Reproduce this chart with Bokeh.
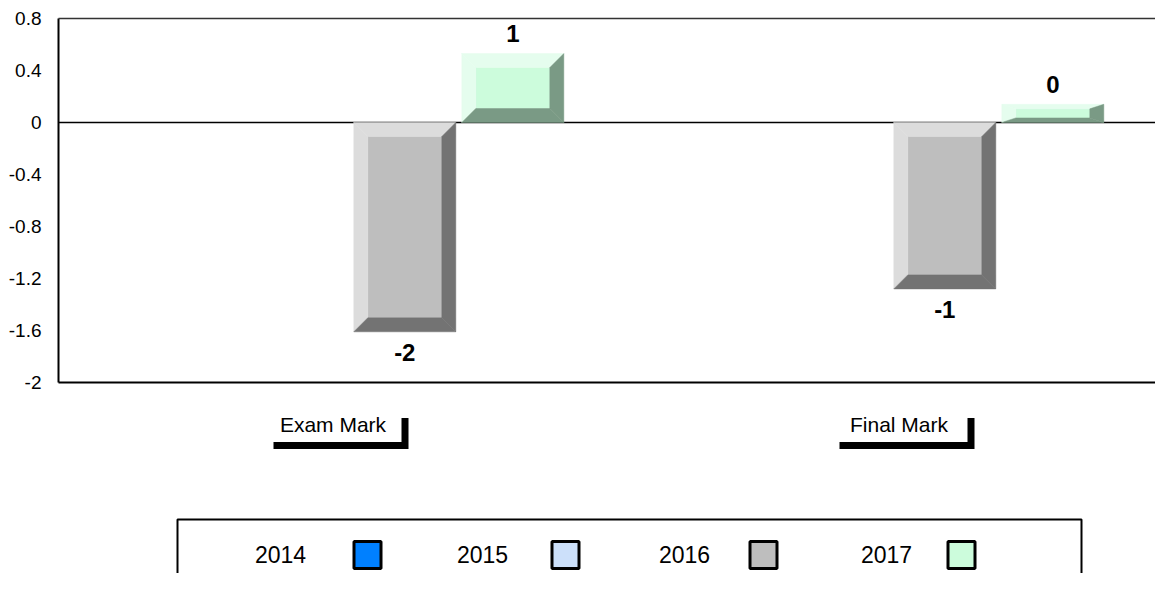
from bokeh.plotting import figure
from bokeh.models import Range1d, FixedTicker, CustomJSTickFormatter
from bokeh.core.properties import value
from bokeh.embed import file_html
from bokeh.resources import INLINE

# ---------------- data ----------------
CATEGORIES = ["Exam Mark", "Final Mark"]
SERIES = ["2014", "2015", "2016", "2017"]
V2014 = [0.0, 0.0]
V2015 = [0.0, 0.0]
V2016 = [-1.61, -1.28]
V2017 = [0.53, 0.14]
Y_TICKS = [-2, -1.6, -1.2, -0.8, -0.4, 0, 0.4, 0.8]

VALUES = [V2014, V2015, V2016, V2017]
FACE = ["#0080FF", "#CCE0FA", "#BEBEBE", "#CCFCDC"]
LIGHT = ["#66B3FF", "#E6F0FD", "#DCDCDC", "#E5FDEE"]
DARK = ["#004D99", "#7A8696", "#737373", "#7A9A85"]

# ---------------- layout ----------------
W, H = 1155, 573
BORDER_L = 54
PX = 130.0          # pixels per y unit
ZERO_Y = 122        # screen y of value 0

def sy(screen_y):
    return (ZERO_Y - screen_y) / PX

y_end = sy(0)
y_start = sy(H)

GROUP_X0, GROUP_STEP, SLOT, BAR_W, BEVEL = 350.3, 540.0, 108.0, 102.0, 14.0
CAT_X0, CAT_STEP = 340.5, 566.0
FONT = "Liberation Sans"

p = figure(width=W, height=H, output_backend="svg", toolbar_location=None,
           x_range=Range1d(BORDER_L, W), y_range=Range1d(y_start, y_end),
           x_axis_location=None, y_axis_location="left",
           min_border_left=BORDER_L, min_border_right=0, min_border_top=0,
           min_border_bottom=0)
p.outline_line_color = None
p.grid.visible = False
p.background_fill_color = "white"
p.border_fill_color = "white"

ax = p.yaxis[0]
ax.ticker = FixedTicker(ticks=Y_TICKS)
ax.formatter = CustomJSTickFormatter(code="return String(Math.round(tick*10)/10);")
ax.axis_line_color = None
ax.major_tick_line_color = None
ax.minor_tick_line_color = None
ax.major_label_standoff = 7
ax.major_label_text_font = FONT
ax.major_label_text_font_size = "19px"
ax.major_label_text_color = "black"

# frame lines
xl, xr = 58, W
p.segment(x0=[xl], y0=[Y_TICKS[0]], x1=[xl], y1=[Y_TICKS[-1]], line_color="black", line_width=2)
p.segment(x0=[xl], y0=[Y_TICKS[-1]], x1=[xr], y1=[Y_TICKS[-1]], line_color="#333333", line_width=1.5)
p.segment(x0=[xl], y0=[0], x1=[xr], y1=[0], line_color="black", line_width=1.5)
p.segment(x0=[xl], y0=[Y_TICKS[0]], x1=[xr], y1=[Y_TICKS[0]], line_color="black", line_width=2)

# beveled bars
lab_x, lab_y, lab_t = [], [], []
for si, vals in enumerate(VALUES):
    for ci, v in enumerate(vals):
        if v == 0:
            continue
        cx = GROUP_X0 + ci * GROUP_STEP + (si - 1.5) * SLOT
        L, R = cx - BAR_W / 2, cx + BAR_W / 2
        B, T = min(0, v), max(0, v)
        dx = BEVEL
        dy = min(BEVEL, abs(v) * PX / 4) / PX
        xs = [
            [L + dx, R - dx, R - dx, L + dx],
            [L, R, R - dx, L + dx],
            [L, L + dx, L + dx, L],
            [R, R, R - dx, R - dx],
            [L, R, R - dx, L + dx],
        ]
        ys = [
            [B + dy, B + dy, T - dy, T - dy],
            [T, T, T - dy, T - dy],
            [T, T - dy, B + dy, B],
            [T, B, B + dy, T - dy],
            [B, B, B + dy, B + dy],
        ]
        cols = [FACE[si], LIGHT[si], LIGHT[si], DARK[si], DARK[si]]
        p.patches(xs=xs, ys=ys, fill_color=cols, line_color=cols, line_width=0.5)
        lab_x.append(cx)
        lab_y.append(v + (20 / PX if v > 0 else -21 / PX))
        lab_t.append(str(round(v)))

p.text(x=lab_x, y=lab_y, text=lab_t, text_align="center", text_baseline="middle",
       text_font=value(FONT), text_font_size="24px", text_font_style="bold",
       text_color="black")

# category labels with brackets
for ci, name in enumerate(CATEGORIES):
    c = CAT_X0 + ci * CAT_STEP
    p.text(x=[c - 8], y=[sy(424)], text=[name], text_align="center",
           text_baseline="middle", text_font=value(FONT), text_font_size="21px",
           text_color="black")
    p.line(x=[c - 67.5, c + 64, c + 64], y=[sy(445), sy(445), sy(417.5)],
           line_color="black", line_width=7, line_join="miter")

# legend box
p.quad(left=[177], right=[1081], top=[sy(519)], bottom=[y_start - 1],
       fill_color=None, line_color="black", line_width=2)
leg_lx = [280 + 202 * i for i in range(len(SERIES))]
leg_sx = [367 + 198 * i for i in range(len(SERIES))]
p.text(x=leg_lx, y=[sy(554)] * len(SERIES), text=SERIES, text_align="center",
       text_baseline="middle", text_font=value(FONT), text_font_size="23px",
       text_color="black")
p.scatter(x=leg_sx, y=[sy(554.5)] * len(SERIES), marker="square", size=27,
          fill_color=FACE, line_color="black", line_width=3)

open("out.html", "w").write(file_html(p, INLINE))
